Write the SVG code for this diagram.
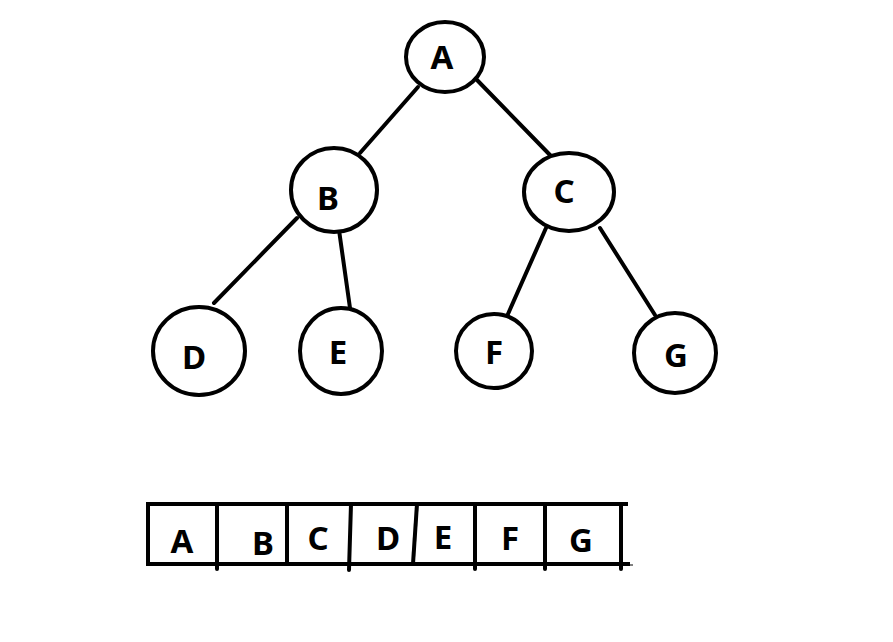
<svg xmlns="http://www.w3.org/2000/svg" width="893" height="642" viewBox="0 0 893 642">
<style>
.n{fill:#fff;stroke:#000;stroke-width:4}
.t{font-family:"Noto Sans","Open Sans","Liberation Sans",sans-serif;font-weight:bold;font-size:33px;text-anchor:middle;fill:#000}
.e{stroke:#000;stroke-width:4;stroke-linecap:round;fill:none}
.a{stroke:#000;stroke-width:4;fill:none}
</style>
<rect width="893" height="642" fill="#fff"/>
<g id="edges">
<line class="e" x1="418" y1="87" x2="360" y2="153"/>
<line class="e" x1="477" y1="80" x2="550" y2="155"/>
<line class="e" x1="297" y1="218" x2="214" y2="303"/>
<line class="e" x1="339" y1="230" x2="350" y2="308"/>
<line class="e" x1="546" y1="228" x2="508" y2="314"/>
<line class="e" x1="600" y1="228" x2="655" y2="315"/>
</g>
<g id="nA"><ellipse class="n" cx="445" cy="57" rx="39" ry="35"/><text class="t" x="442" y="69">A</text></g>
<g id="nB"><ellipse class="n" cx="334" cy="190" rx="43" ry="42"/><text class="t" x="328" y="210">B</text></g>
<g id="nC"><ellipse class="n" cx="569" cy="192" rx="45" ry="39"/><text class="t" x="564" y="203">C</text></g>
<g id="nD"><ellipse class="n" cx="199" cy="351" rx="46" ry="44"/><text class="t" x="194" y="369">D</text></g>
<g id="nE"><ellipse class="n" cx="341" cy="351" rx="41" ry="43"/><text class="t" x="338" y="364">E</text></g>
<g id="nF"><ellipse class="n" cx="494" cy="351" rx="38" ry="37"/><text class="t" x="494" y="364">F</text></g>
<g id="nG"><ellipse class="n" cx="675" cy="353" rx="41" ry="40"/><text class="t" x="676" y="367">G</text></g>
<g id="array">
<line class="a" x1="146" y1="504" x2="628" y2="504"/>
<line class="a" x1="146" y1="564" x2="630" y2="564"/>
<line x1="628" y1="565" x2="633" y2="565" stroke="#000" stroke-width="1"/>
<line class="a" x1="148" y1="502" x2="148" y2="566"/>
<line class="e" x1="217" y1="504" x2="217" y2="569"/>
<line class="a" x1="287" y1="504" x2="287" y2="564"/>
<line class="e" x1="351" y1="504" x2="349" y2="570"/>
<line class="a" x1="417" y1="504" x2="413" y2="564"/>
<line class="e" x1="475" y1="504" x2="475" y2="569"/>
<line class="e" x1="545" y1="504" x2="545" y2="569"/>
<line class="e" x1="621" y1="504" x2="621" y2="569"/>
<text class="t" x="182" y="553">A</text>
<text class="t" x="263" y="555">B</text>
<text class="t" x="318" y="550">C</text>
<text class="t" x="388" y="550">D</text>
<text class="t" x="443" y="549">E</text>
<text class="t" x="510" y="550">F</text>
<text class="t" x="581" y="552">G</text>
</g>
</svg>
